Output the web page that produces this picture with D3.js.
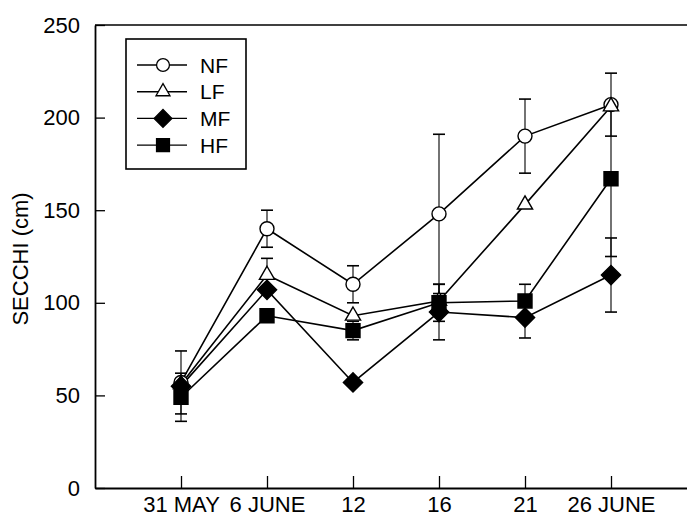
<!DOCTYPE html>
<html>
<head>
<meta charset="utf-8">
<script src="https://cdn.jsdelivr.net/npm/d3@7"></script>
<style>
  body { margin: 0; background: #fff; }
  text { font-family: Arial, "Liberation Sans", Helvetica, sans-serif; fill: #000; }
</style>
</head>
<body>
<svg width="687" height="517"></svg>
<script>
// data
var categories = ["31 MAY", "6 JUNE", "12", "16", "21", "26 JUNE"];
var yTicks = [0, 50, 100, 150, 200, 250];

var nfValues = [57, 140, 110, 148, 190, 207];
var nfErr    = [17, 10, 10, 43, 20, 17];
var lfValues = [56, 115, 93, 101, 153, 206];
var lfErr    = [0, 9, 0, 0, 0, 0];
var mfValues = [55, 107, 57, 95, 92, 115];
var mfErr    = [0, 0, 0, 15, 11, 20];
var hfValues = [49, 93, 85, 100, 101, 167];
var hfErr    = [13, 0, 5, 10, 9, 42];

var seriesNames = ["NF", "LF", "MF", "HF"];

var series = [
  {name: "NF", values: nfValues, err: nfErr, shape: "circle", fill: "#fff"},
  {name: "LF", values: lfValues, err: lfErr, shape: "triangle", fill: "#fff"},
  {name: "MF", values: mfValues, err: mfErr, shape: "diamond", fill: "#000"},
  {name: "HF", values: hfValues, err: hfErr, shape: "square", fill: "#000"}
];

var svg = d3.select("svg");
var plotLeft = 95, plotTop = 25, plotBottom = 488, plotRight = 697;

var x = d3.scalePoint().domain(categories).range([plotLeft, plotRight]).padding(1);
var y = d3.scaleLinear().domain([0, 250]).range([plotBottom, plotTop]);

// symbols
function symbolFor(shape, k) {
  k = k || 1;
  if (shape == "circle") return d3.symbol().type(d3.symbolCircle).size(154 * k)();
  if (shape == "triangle") return d3.symbol().type(d3.symbolTriangle).size(100 * k)();
  if (shape == "square") return d3.symbol().type(d3.symbolSquare).size(196 * k)();
  return d3.symbol().type(d3.symbolSquare).size(185 * k)();
}

// frame
svg.append("line").attr("x1", plotLeft).attr("x2", plotRight).attr("y1", plotTop).attr("y2", plotTop)
  .attr("stroke", "#000").attr("stroke-width", 1.6);

var yAxis = d3.axisLeft(y).tickValues(yTicks).tickSizeInner(-10).tickSizeOuter(0).tickPadding(15);
var gy = svg.append("g").attr("transform", "translate(" + plotLeft + ",0)").call(yAxis);
gy.select(".domain").attr("stroke-width", 1.8);
gy.selectAll(".tick line").attr("stroke-width", 1.3);
gy.selectAll("text").attr("font-size", 22).attr("font-family", null);

var xAxis = d3.axisBottom(x).tickSizeInner(-12).tickSizeOuter(0).tickPadding(8);
var gx = svg.append("g").attr("transform", "translate(0," + plotBottom + ")").call(xAxis);
gx.select(".domain").attr("stroke-width", 2);
gx.selectAll(".tick line").attr("stroke-width", 1.3);
gx.selectAll("text").attr("font-size", 22).attr("font-family", null);

svg.append("text")
  .attr("transform", "translate(28,259) rotate(-90)")
  .attr("text-anchor", "middle")
  .attr("font-size", 22)
  .text("SECCHI (cm)");

// lines
var line = d3.line().x(function (d, i) { return x(categories[i]); }).y(function (d) { return y(d); });
svg.selectAll(".series").data(series).enter().append("path")
  .attr("class", "series")
  .attr("d", function (s) { return line(s.values); })
  .attr("fill", "none").attr("stroke", "#000").attr("stroke-width", 1.6);

// error bars
series.forEach(function (s) {
  s.values.forEach(function (v, i) {
    var e = s.err[i];
    if (!e) return;
    var cx = x(categories[i]);
    var g = svg.append("g");
    g.append("line").attr("x1", cx).attr("x2", cx).attr("y1", y(v - e)).attr("y2", y(v + e))
      .attr("stroke", "#000").attr("stroke-width", 1.1);
    [v - e, v + e].forEach(function (t) {
      g.append("line").attr("x1", cx - 6).attr("x2", cx + 6).attr("y1", y(t)).attr("y2", y(t))
        .attr("stroke", "#000").attr("stroke-width", 1.6);
    });
  });
});

// markers
series.forEach(function (s) {
  svg.selectAll(".m" + s.name).data(s.values).enter().append("path")
    .attr("transform", function (d, i) {
      return "translate(" + x(categories[i]) + "," + y(d) + ")" + (s.shape == "diamond" ? " rotate(45)" : "");
    })
    .attr("d", symbolFor(s.shape))
    .attr("fill", s.fill).attr("stroke", "#000").attr("stroke-width", 1.4);
});

// legend
var lg = svg.append("g");
lg.append("rect").attr("x", 126).attr("y", 39).attr("width", 120).attr("height", 130)
  .attr("fill", "#fff").attr("stroke", "#000").attr("stroke-width", 1.6);
series.forEach(function (s, i) {
  var ly = 65 + i * 26.7;
  lg.append("line").attr("x1", 137).attr("x2", 187).attr("y1", ly).attr("y2", ly)
    .attr("stroke", "#000").attr("stroke-width", 1.4);
  lg.append("path")
    .attr("transform", "translate(163," + ly + ")" + (s.shape == "diamond" ? " rotate(45)" : ""))
    .attr("d", symbolFor(s.shape, 0.85))
    .attr("fill", s.fill).attr("stroke", "#000").attr("stroke-width", 1.3);
  lg.append("text").attr("x", 200).attr("y", ly).attr("dy", "0.36em")
    .attr("font-size", 21).text(seriesNames[i]);
});
</script>
</body>
</html>
